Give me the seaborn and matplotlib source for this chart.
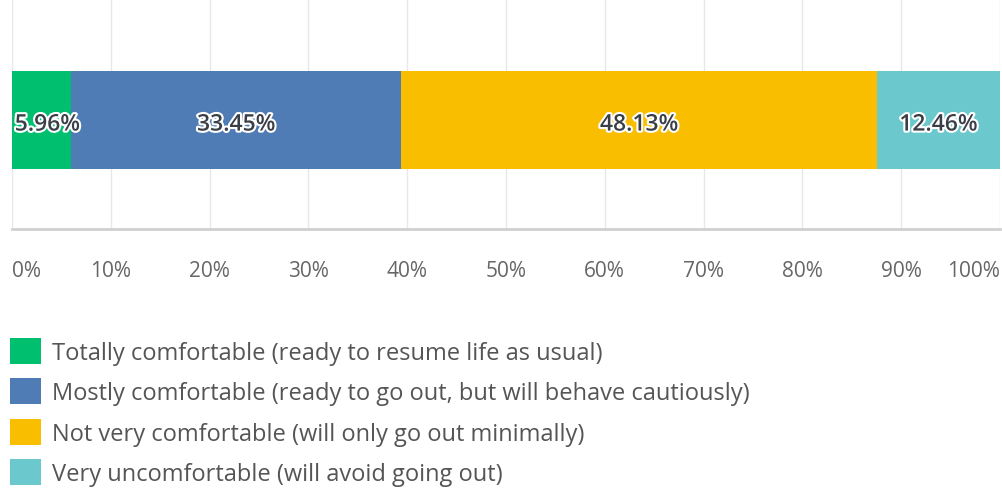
import seaborn as sns
import matplotlib.pyplot as plt
import matplotlib.patheffects as pe
from matplotlib.patches import Patch
import numpy as np

# survey answers and their shares (%)
answers = [
    "Totally comfortable (ready to resume life as usual)",
    "Mostly comfortable (ready to go out, but will behave cautiously)",
    "Not very comfortable (will only go out minimally)",
    "Very uncomfortable (will avoid going out)",
]
shares = [5.96, 33.45, 48.13, 12.46]
colors = ["#00bf6f", "#507cb6", "#f9be00", "#6bc8cd"]
ticks = [0, 10, 20, 30, 40, 50, 60, 70, 80, 90, 100]
tick_labels = ["0%", "10%", "20%", "30%", "40%", "50%", "60%", "70%", "80%", "90%", "100%"]

sns.set_style("white")
plt.rcParams["font.family"] = ["Open Sans", "DejaVu Sans"]

fig = plt.figure(figsize=(10.02, 4.89), dpi=100)
ax = fig.add_axes([12 / 1002, 1 - 230 / 489, 988 / 1002, 230 / 489])

cum = np.cumsum(shares)
starts = cum - np.array(shares)

# stacked bar: draw cumulative totals from the largest down
for i in reversed(range(len(shares))):
    sns.barplot(x=[cum[i]], y=[""], orient="h", color=colors[i], saturation=1,
                width=0.426, errorbar=None, ax=ax, linewidth=0, zorder=3)

ax.set_xlim(0, 100)
ax.set_ylim(0.474, -0.526)

# segment labels
for s, v in zip(starts, shares):
    ax.text(s + v / 2 + (0.6 if v < 8 else 0), 0.02, f"{v:.2f}%", ha="center", va="center",
            fontsize=16.5, fontweight="semibold", color="#3a3f47", zorder=5,
            path_effects=[pe.withStroke(linewidth=3, foreground="white")])

# grid and axes
for t in ticks:
    ax.axvline(t, color="#e8e8e8", linewidth=1, zorder=1)
for side in ["top", "right", "left"]:
    ax.spines[side].set_visible(False)
ax.spines["bottom"].set_color("#d0d0d0")
ax.spines["bottom"].set_linewidth(2)
ax.set_yticks([])
ax.set_xticks(ticks)
ax.set_xticklabels(tick_labels, fontsize=15, color="#666666")
ax.tick_params(axis="x", length=0, pad=22)
labels = ax.get_xticklabels()
labels[0].set_horizontalalignment("left")
labels[-1].set_horizontalalignment("right")
ax.set_xlabel("")
ax.set_ylabel("")

# legend
handles = [Patch(facecolor=c, edgecolor="none") for c in colors]
fig.legend(handles, answers, loc="upper left", bbox_to_anchor=(10 / 1002, 1 - 339 / 489),
           frameon=False, fontsize=17, handlelength=1.3, handleheight=1.3,
           labelspacing=0.58, handletextpad=0.5, borderpad=0, borderaxespad=0,
           labelcolor="#555555")

plt.savefig("out.png", dpi=100)
